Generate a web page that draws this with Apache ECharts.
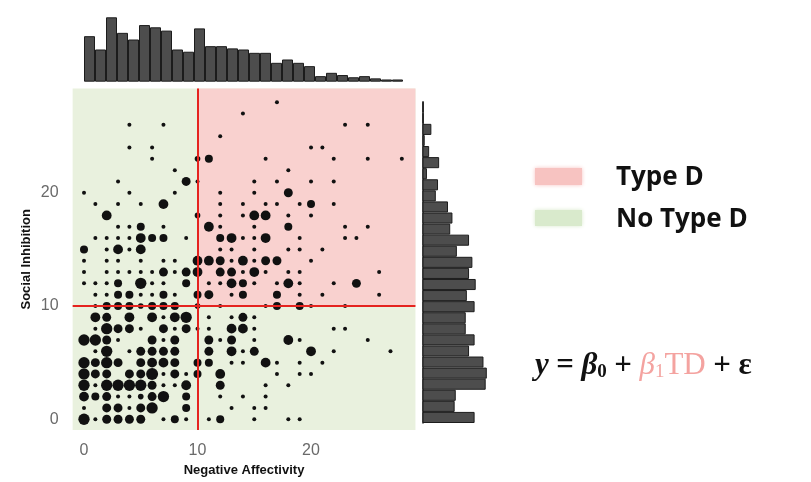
<!DOCTYPE html>
<html><head><meta charset="utf-8">
<script src="https://cdn.jsdelivr.net/npm/echarts@6/dist/echarts.min.js"></script>
<style>html,body{margin:0;padding:0;background:#fff}#c{width:811px;height:482px}</style>
</head><body><div id="c"></div>
<script>
// ---- data ----
const xTicks = [0, 10, 20];
const yTicks = [0, 10, 20];
const cutoff = 10;
const axisMinX = -1, axisMaxX = 29.2, axisMinY = -0.95, axisMaxY = 29.2;
const binLabels = ['0','1','2','3','4','5','6','7','8','9','10','11','12','13','14','15','16','17','18','19','20','21','22','23','24','25','26','27','28'];
// marginal histogram counts (Negative Affectivity, bins 0..28)
const histNA = [41,29,58,44,38,51,49,46,29,27,48,32,32,30,29,26,26,17,20,17,14,5,8,6,4,5,3,2,2];
// marginal histogram counts (Social Inhibition, bins 0..28)
const histSI = [47,29,30,57,58,55,42,47,39,39,47,40,48,42,45,31,42,25,27,23,12,14,4,15,6,2,8,1,1];
// [NegativeAffectivity, SocialInhibition, count]
const cells = [
 [0,0,8],[1,0,1],[2,0,5],[3,0,5],[4,0,5],[5,0,5],[7,0,1],[8,0,4],[9,0,1],[11,0,1],[12,0,4],[15,0,1],[18,0,1],[19,0,1],
 [0,1,1],[2,1,5],[3,1,5],[4,1,1],[5,1,5],[6,1,8],[9,1,4],[13,1,1],[15,1,1],[16,1,1],
 [0,2,6],[1,2,4],[2,2,5],[3,2,1],[4,2,1],[5,2,2],[6,2,5],[7,2,8],[9,2,4],[12,2,1],[14,2,1],[16,2,1],
 [0,3,8],[1,3,1],[2,3,8],[3,3,8],[4,3,8],[5,3,8],[6,3,5],[7,3,1],[8,3,1],[9,3,6],[12,3,5],[16,3,1],[18,3,1],
 [0,4,8],[1,4,5],[2,4,5],[4,4,5],[5,4,5],[6,4,9],[7,4,1],[8,4,5],[9,4,1],[10,4,4],[12,4,6],[17,4,1],[19,4,1],[20,4,1],
 [0,5,8],[1,5,5],[2,5,8],[3,5,5],[5,5,5],[6,5,6],[7,5,6],[8,5,5],[10,5,4],[11,5,4],[13,5,1],[14,5,1],[16,5,6],[17,5,1],[19,5,1],[21,5,1],
 [1,6,1],[2,6,8],[4,6,1],[5,6,5],[6,6,5],[7,6,5],[8,6,5],[11,6,5],[13,6,6],[14,6,1],[15,6,5],[20,6,6],[22,6,1],[27,6,1],
 [0,7,8],[1,7,8],[2,7,5],[3,7,1],[6,7,5],[7,7,1],[8,7,5],[11,7,5],[12,7,1],[13,7,5],[15,7,1],[18,7,6],[19,7,1],[25,7,1],
 [1,8,1],[2,8,8],[3,8,5],[4,8,5],[5,8,1],[7,8,5],[8,8,1],[9,8,5],[10,8,1],[11,8,1],[13,8,6],[14,8,6],[15,8,1],[22,8,1],[23,8,1],
 [1,9,6],[2,9,5],[4,9,6],[6,9,6],[7,9,1],[8,9,6],[9,9,8],[11,9,1],[13,9,1],[14,9,5],[15,9,1],
 [1,10,1],[2,10,4],[3,10,4],[4,10,4],[5,10,2],[6,10,4],[7,10,4],[8,10,4],[10,10,2],[12,10,1],[16,10,1],[17,10,4],[19,10,4],[20,10,1],[23,10,1],
 [1,11,1],[2,11,1],[3,11,4],[4,11,4],[5,11,1],[6,11,1],[7,11,4],[8,11,1],[10,11,4],[11,11,5],[13,11,1],[14,11,4],[17,11,4],[19,11,1],[21,11,1],[26,11,1],
 [0,12,1],[1,12,1],[2,12,1],[3,12,4],[5,12,8],[6,12,1],[7,12,1],[9,12,4],[11,12,1],[12,12,1],[13,12,6],[14,12,4],[15,12,1],[17,12,1],[18,12,6],[19,12,1],[22,12,1],[24,12,5],
 [0,13,1],[2,13,1],[3,13,1],[4,13,1],[5,13,1],[6,13,1],[7,13,5],[8,13,1],[9,13,5],[10,13,6],[12,13,5],[13,13,5],[14,13,1],[15,13,6],[16,13,1],[18,13,1],[19,13,1],[26,13,1],
 [0,14,1],[2,14,1],[3,14,1],[5,14,1],[7,14,1],[8,14,1],[10,14,6],[11,14,6],[12,14,5],[13,14,1],[14,14,6],[15,14,1],[16,14,5],[17,14,5],[20,14,1],
 [0,15,4],[2,15,1],[3,15,6],[4,15,1],[5,15,6],[12,15,1],[13,15,1],[15,15,1],[18,15,1],[19,15,1],[21,15,1],
 [1,16,1],[2,16,1],[3,16,1],[4,16,1],[5,16,6],[6,16,4],[7,16,4],[9,16,1],[12,16,4],[13,16,6],[14,16,1],[15,16,1],[16,16,6],[19,16,1],[23,16,1],[24,16,1],
 [3,17,1],[4,17,1],[5,17,4],[7,17,1],[11,17,6],[12,17,1],[15,17,1],[18,17,4],[23,17,1],[25,17,1],
 [2,18,6],[10,18,2],[12,18,1],[14,18,1],[15,18,6],[16,18,6],[18,18,1],[20,18,1],
 [1,19,1],[3,19,1],[5,19,1],[7,19,6],[12,19,1],[14,19,1],[16,19,1],[17,19,1],[19,19,1],[20,19,4],[22,19,1],
 [0,20,1],[4,20,1],[8,20,1],[12,20,1],[15,20,1],[18,20,5],
 [3,21,1],[9,21,5],[10,21,1],[15,21,1],[17,21,1],[20,21,1],[22,21,1],
 [8,22,1],[18,22,1],
 [6,23,1],[10,23,2],[11,23,4],[16,23,1],[22,23,1],[25,23,1],[28,23,1],
 [4,24,1],[6,24,1],[20,24,1],[21,24,1],
 [12,25,1],
 [4,26,1],[7,26,1],[23,26,1],[25,26,1],
 [14,27,1],
 [17,28,1]
];

// ---- styles ----
const PINK = '#f9d1cf', GREEN = '#e9f1de', RED = '#e5231f';
const BAR = '#4d4d4d', BAR_EDGE = '#1c1c1c';
const chart = echarts.init(document.getElementById('c'), null, {renderer: 'canvas'});
const tickLabel = {color: '#6a6a6a', fontSize: 16, fontFamily: 'Liberation Sans'};
const titleStyle = {color: '#111', fontSize: 13, fontWeight: 'bold', fontFamily: 'Liberation Sans'};
const serif = 'Liberation Serif';
const pinkText = '#f4a3a0';

chart.setOption({
  animation: false,
  backgroundColor: '#fff',
  grid: [
    {left: 72.65, top: 88.6, width: 342.8, height: 343.7},
    {left: 84, top: 17.3, width: 319, height: 64.4},
    {left: 422.5, top: 101.7, width: 64.3, height: 321.3}
  ],
  xAxis: [
    {type: 'value', gridIndex: 0, min: axisMinX, max: axisMaxX,
     axisLine: {show: false}, axisTick: {show: false}, splitLine: {show: false},
     axisLabel: Object.assign({customValues: xTicks, margin: 13}, tickLabel),
     name: 'Negative Affectivity', nameLocation: 'middle', nameGap: 34, nameTextStyle: titleStyle},
    {type: 'category', gridIndex: 1, data: binLabels, show: false},
    {type: 'value', gridIndex: 2, min: 0, max: 58, show: false}
  ],
  yAxis: [
    {type: 'value', gridIndex: 0, min: axisMinY, max: axisMaxY,
     axisLine: {show: false}, axisTick: {show: false}, splitLine: {show: false},
     axisLabel: Object.assign({customValues: yTicks, margin: 14}, tickLabel),
     name: 'Social Inhibition', nameLocation: 'middle', nameRotate: 90, nameGap: 40, nameTextStyle: titleStyle},
    {type: 'value', gridIndex: 1, min: 0, max: 58, show: false},
    {type: 'category', gridIndex: 2, data: binLabels,
     axisLine: {show: true, lineStyle: {color: '#1c1c1c', width: 1.5}},
     axisTick: {show: false}, axisLabel: {show: false}, splitLine: {show: false}}
  ],
  series: [
    {type: 'scatter', xAxisIndex: 0, yAxisIndex: 0, data: [], z: 1, silent: true,
     markArea: {silent: true, data: [
       [{coord: [axisMinX, axisMinY], itemStyle: {color: GREEN}}, {coord: [axisMaxX, axisMaxY]}],
       [{coord: [cutoff, cutoff], itemStyle: {color: PINK}}, {coord: [axisMaxX, axisMaxY]}]
     ]}},
    {type: 'scatter', xAxisIndex: 0, yAxisIndex: 0, z: 2, silent: true,
     data: cells,
     symbolSize: v => 4.0 * Math.sqrt(v[2]),
     itemStyle: {color: '#111', opacity: 1}},
    {type: 'scatter', xAxisIndex: 0, yAxisIndex: 0, data: [], z: 3, silent: true,
     markLine: {silent: true, symbol: 'none', label: {show: false},
       lineStyle: {color: RED, width: 2, type: 'solid'},
       data: [{xAxis: cutoff}, {yAxis: cutoff}]}},
    {type: 'bar', xAxisIndex: 1, yAxisIndex: 1, data: histNA, barWidth: '100%', silent: true,
     itemStyle: {color: BAR, borderColor: BAR_EDGE, borderWidth: 1}},
    {type: 'bar', xAxisIndex: 2, yAxisIndex: 2, data: histSI, barWidth: '100%', silent: true,
     itemStyle: {color: BAR, borderColor: BAR_EDGE, borderWidth: 1}}
  ],
  graphic: [
    {type: 'rect', shape: {x: 535, y: 168, width: 47, height: 17},
     style: {fill: '#f7c3c1', shadowBlur: 4, shadowColor: '#f7c3c1'}},
    {type: 'rect', shape: {x: 535, y: 210, width: 47, height: 16},
     style: {fill: '#d9eacc', shadowBlur: 4, shadowColor: '#d9eacc'}},
    {type: 'text', x: 616, y: 178,
     style: {text: 'Type D', fill: '#111', font: 'bold 26px "Open Sans"', verticalAlign: 'middle'}},
    {type: 'text', x: 616, y: 220,
     style: {text: 'No Type D', fill: '#111', font: 'bold 26px "Open Sans"', verticalAlign: 'middle'}},
    {type: 'text', x: 535, y: 366,
     style: {
       text: '{v|y} {op|=} {v|β}{sub|0} {op|+} {pb|β}{psub|1}{ptd|TD} {op|+} {op|ε}',
       verticalAlign: 'middle',
       font: 'bold 30px "Liberation Serif"',
       fill: '#111',
       rich: {
         v: {fontFamily: serif, fontStyle: 'italic', fontWeight: 'bold', fontSize: 31, fill: '#111'},
         op: {fontFamily: serif, fontWeight: 'bold', fontSize: 31, fill: '#111'},
         sub: {fontFamily: serif, fontWeight: 'bold', fontSize: 19, fill: '#111', verticalAlign: 'bottom'},
         pb: {fontFamily: serif, fontStyle: 'italic', fontSize: 31, fill: pinkText},
         psub: {fontFamily: serif, fontSize: 19, fill: pinkText, verticalAlign: 'bottom'},
         ptd: {fontFamily: serif, fontSize: 31, fill: pinkText}
       }
     }}
  ]
});
</script>
</body></html>
